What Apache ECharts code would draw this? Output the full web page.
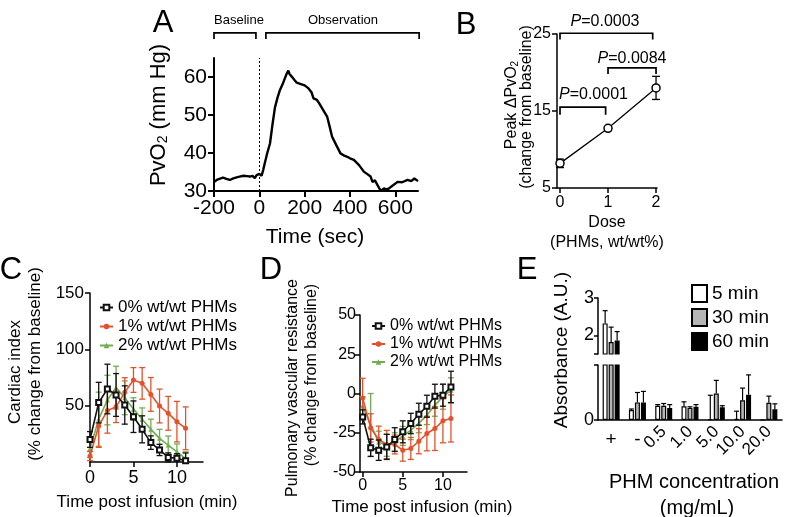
<!DOCTYPE html>
<html><head><meta charset="utf-8">
<script src="https://cdn.jsdelivr.net/npm/echarts@6.0.0/dist/echarts.min.js"></script>
<style>html,body{margin:0;padding:0;background:#fff;}#chart{width:793px;height:517px;}</style>
</head><body><div id="chart"></div>
<script>
// ---------- Panel A : PvO2 trace ----------
const timeA = [-200,-185,-170,-160,-145,-130,-115,-100,-87,-70,-55,-42,-30,-20,-12,-5,0,5,10,17,24,35,47,58,69,80,91,102,113,120,125,128,133,143,155,165,180,200,217,230,239,254,265,280,299,310,321,340,358,375,388,400,417,440,461,475,491,499,510,522,536,550,560,572,590,610,630,654,670,684,700];
const pvo2A = [32.4,33.0,33.3,33.5,33.2,32.9,33.3,33.6,33.8,34.0,33.9,33.8,34.0,33.4,34.2,34.6,34.5,34.0,34.0,35.5,37.3,40.0,42.5,47.5,52.0,54.5,56.6,58.0,59.7,60.8,61.2,61.7,60.8,60.1,59.2,58.5,58.2,57.8,57.0,56.0,54.4,54.0,53.0,51.5,49.6,47.0,44.3,42.0,39.9,39.3,39.0,38.6,38.2,36.8,35.1,34.5,33.8,32.4,32.8,31.5,30.0,30.7,30.3,30.7,31.5,32.4,32.3,32.9,32.6,33.3,32.6];
const phaseLabelsA = ['Baseline','Observation'];
const phaseStartA = [-200, 29];
const phaseEndA = [-15, 705];
const phaseTopA = [71.6, 71.6];
const phaseLegA = [70.0, 70.0];

// ---------- Panel B : peak dPvO2 vs dose ----------
const doseB = [0, 1, 2];
const peakB = [8.2, 12.75, 18.0];
const errB = [0.55, 0.2, 1.5];
const pValuesB = ['0.0001', '0.0084', '0.0003'];
const brStartB = [0, 1, 0];
const brEndB = [0.95, 2, 1.93];
const brTopB = [15.5, 20.6, 25.1];
const brLegB = [14.5, 19.8, 24.3];

// ---------- Panels C & D ----------
const groupNames = ['0% wt/wt PHMs', '1% wt/wt PHMs', '2% wt/wt PHMs'];
const timeCD = [0,1,2,3,4,5,6,7,8,9,10,11];
const cardiac0 = [20, 52.7, 64.8, 59.5, 50.6, 40.2, 29, 17.2, 10.7, 4.1, 3.3, 1];
const cardiac0Err = [7, 18, 22, 19, 17, 14, 12, 6, 5, 4, 4, 7];
const cardiac1 = [5.3, 32, 45.6, 49, 61.8, 72.8, 69.8, 60, 49.7, 43.2, 35.8, 29.9];
const cardiac1Err = [4, 19, 20, 14, 13, 11, 14, 15, 15, 15, 18, 19];
const cardiac2 = [12, 38, 55, 66, 57, 47, 38, 29, 21, 15, 9, 3];
const cardiac2Err = [8, 24, 22, 19, 15, 10, 10, 9, 8, 8, 7, 6];
const pvr0 = [-14.9, -34.6, -36.1, -34, -29.3, -24.4, -19.1, -13.2, -8.1, -1.7, -1.1, 4.2];
const pvr0Err = [4.5, 5.5, 6.5, 8, 7.5, 7, 6.5, 7, 7, 7.6, 7, 10];
const pvr1 = [-2.8, -21.9, -29.3, -32.5, -32.5, -36.1, -35, -30.4, -25.5, -22.3, -17.4, -15.9];
const pvr1Err = [12.5, 9, 8.5, 9, 6, 7, 7, 8, 11, 14, 14, 15];
const pvr2 = [-8, -20, -31, -33, -31, -27, -23.4, -19, -13.8, -7.5, -2, 2];
const pvr2Err = [6, 20, 7, 7, 6, 6, 6, 6, 6, 7, 8, 8];

// ---------- Panel E : hemolysis absorbance ----------
const concE = ['+', '-', '0.5', '1.0', '5.0', '10.0', '20.0'];
const timesE = ['5 min', '30 min', '60 min'];
const abs5 = [2.32, 0.09, 0.13, 0.125, 0.005, 0.01, 0];
const abs5Err = [0.34, 0.01, 0.01, 0.04, 0.22, 0.07, 0];
const abs30 = [1.82, 0.16, 0.13, 0.11, 0.24, 0.18, 0.157];
const abs30Err = [0.40, 0.09, 0.02, 0.01, 0.12, 0.11, 0.06];
const abs60 = [1.86, 0.16, 0.11, 0.12, 0.115, 0.23, 0.097];
const abs60Err = [0.24, 0.10, 0.03, 0.02, 0.015, 0.18, 0.05];

// ---------- styling ----------
const FONT = '"Liberation Sans", Arial, Helvetica, sans-serif';
const RED = '#e2532d';
const GREEN = '#72ad52';
const BLACK = '#111111';

function vAxis(g, min, max, ticks, labels, fs, margin, lw, tickLen) {
  return {
    type: 'value', gridIndex: g, min: min, max: max,
    splitLine: { show: false },
    axisLine: { show: true, onZero: false, lineStyle: { color: '#000', width: lw } },
    axisTick: { show: true, length: tickLen, customValues: ticks, lineStyle: { color: '#000', width: lw } },
    axisLabel: { show: true, customValues: labels, fontSize: fs, margin: margin, color: '#000', fontFamily: FONT }
  };
}

function errBars(xi, yi, xs, ys, es, color, cap, floor, z) {
  return {
    type: 'custom', xAxisIndex: xi, yAxisIndex: yi, silent: true, z: z,
    encode: { x: 0, y: 1 },
    data: xs.map((x, i) => [x, ys[i], es[i]]),
    renderItem: function (params, api) {
      const x = api.value(0), y = api.value(1), e = api.value(2);
      let lo = y - e;
      if (floor !== null && lo < floor) lo = floor;
      const p1 = api.coord([x, y + e]), p2 = api.coord([x, lo]);
      const st = { stroke: color, lineWidth: 1.3 };
      const ch = [
        { type: 'line', shape: { x1: p1[0], y1: p1[1], x2: p2[0], y2: p2[1] }, style: st },
        { type: 'line', shape: { x1: p1[0] - cap, y1: p1[1], x2: p1[0] + cap, y2: p1[1] }, style: st }
      ];
      if (floor === null || y - e >= floor) ch.push({ type: 'line', shape: { x1: p2[0] - cap, y1: p2[1], x2: p2[0] + cap, y2: p2[1] }, style: st });
      return { type: 'group', children: ch };
    }
  };
}

function brackets(xi, yi, x1, x2, top, leg) {
  return {
    type: 'custom', xAxisIndex: xi, yAxisIndex: yi, silent: true, clip: false,
    encode: { x: [0, 1], y: [2, 3] },
    data: x1.map((v, i) => [v, x2[i], top[i], leg[i]]),
    renderItem: function (params, api) {
      const a = api.coord([api.value(0), api.value(3)]);
      const b = api.coord([api.value(0), api.value(2)]);
      const c = api.coord([api.value(1), api.value(2)]);
      const d = api.coord([api.value(1), api.value(3)]);
      return { type: 'polyline', shape: { points: [a, b, c, d] }, style: { stroke: '#000', lineWidth: 1.7, fill: null } };
    }
  };
}

function lineSeries(name, xi, yi, xs, ys, color, symbol, size, z) {
  return {
    name: name, type: 'line', xAxisIndex: xi, yAxisIndex: yi, z: z,
    data: xs.map((x, i) => [x, ys[i]]),
    symbol: symbol, symbolSize: size, showSymbol: true,
    lineStyle: { color: color, width: 1.6 },
    itemStyle: symbol === 'emptyRect' ? { color: color, borderColor: color, borderWidth: 1.2 } : { color: color },
    emphasis: { disabled: true }
  };
}

const barStyles = [
  { color: '#ffffff', borderColor: '#000', borderWidth: 1.2 },
  { color: '#b5b5b5', borderColor: '#000', borderWidth: 1.2 },
  { color: '#000000', borderColor: '#000', borderWidth: 1.2 }
];
const absVals = [abs5, abs30, abs60];
const absErrs = [abs5Err, abs30Err, abs60Err];

function barSeries(i, xi, yi) {
  return {
    name: timesE[i], type: 'bar', xAxisIndex: xi, yAxisIndex: yi,
    data: absVals[i], barWidth: 5, barGap: '20%', clip: true,
    itemStyle: barStyles[i], emphasis: { disabled: true }
  };
}
function barErr(i, xi, yi) {
  const off = (i - 1) * 6;
  return {
    type: 'custom', xAxisIndex: xi, yAxisIndex: yi, silent: true, clip: true, z: 3,
    encode: { x: 0, y: 1 },
    data: concE.map((c, k) => [k, absVals[i][k], absErrs[i][k]]),
    renderItem: function (params, api) {
      const e = api.value(2);
      if (!e) return null;
      const p0 = api.coord([api.value(0), api.value(1)]);
      const p1 = api.coord([api.value(0), api.value(1) + e]);
      const x = p0[0] + off;
      const st = { stroke: '#000', lineWidth: 1.2 };
      return { type: 'group', children: [
        { type: 'line', shape: { x1: x, y1: p0[1], x2: x, y2: p1[1] }, style: st },
        { type: 'line', shape: { x1: x - 2.5, y1: p1[1], x2: x + 2.5, y2: p1[1] }, style: st }
      ] };
    }
  };
}

function txt(x, y, text, fs, extra) {
  const o = {
    type: 'text', x: x, y: y, silent: true,
    style: { text: text, font: fs + 'px ' + FONT, fontSize: fs, fontFamily: FONT, fill: '#000',
      align: 'center', verticalAlign: 'middle', textAlign: 'center', textVerticalAlign: 'middle' }
  };
  if (extra) {
    if (extra.rotation !== undefined) o.rotation = extra.rotation;
    if (extra.rich) o.style.rich = extra.rich;
    if (extra.align) { o.style.align = extra.align; o.style.textAlign = extra.align; }
  }
  return o;
}
const ROT = Math.PI / 2;
function subRich(fs) {
  return {
    a: { fontSize: fs, fontFamily: FONT, color: '#000' },
    s: { fontSize: Math.round(fs * 0.62), fontFamily: FONT, color: '#000', verticalAlign: 'bottom', lineHeight: Math.round(fs * 0.3) },
    i: { fontSize: fs, fontFamily: FONT, color: '#000', fontStyle: 'italic' }
  };
}

const option = {
  animation: false,
  backgroundColor: '#ffffff',
  textStyle: { fontFamily: FONT, color: '#000' },
  grid: [
    { left: 214, top: 58, width: 204, height: 133, outerBoundsMode: 'none' },
    { left: 557, top: 34, width: 100, height: 154, outerBoundsMode: 'none' },
    { left: 90, top: 293, width: 113, height: 169, outerBoundsMode: 'none' },
    { left: 360, top: 315, width: 107, height: 157, outerBoundsMode: 'none' },
    { left: 598, top: 298, width: 184, height: 56, outerBoundsMode: 'none' },
    { left: 598, top: 365, width: 184, height: 55, outerBoundsMode: 'none' }
  ],
  xAxis: [
    vAxis(0, -200, 700, [-200, 0, 200, 400, 600], [-200, 0, 200, 400, 600], 21, 7, 2, 6),
    vAxis(1, -0.0625, 2.02, [0, 1, 2], [0, 1, 2], 16, 7, 1.5, 5),
    vAxis(2, 0, 13, [0, 5, 10], [0, 5, 10], 18, 7, 1.5, 5),
    vAxis(3, -0.33, 13, [0, 5, 10], [0, 5, 10], 16, 6, 1.5, 5),
    { type: 'category', gridIndex: 4, data: concE, show: false },
    { type: 'category', gridIndex: 5, data: concE,
      axisLine: { show: true, lineStyle: { color: '#000', width: 1.5 } },
      axisTick: { show: false },
      axisLabel: { show: true, interval: 0, rotate: 45, fontSize: 17, margin: 9, color: '#000', fontFamily: FONT,
        formatter: v => (v === '+' || v === '-') ? '' : v } },
    { type: 'category', gridIndex: 5, data: concE, position: 'bottom',
      axisLine: { show: false }, axisTick: { show: false },
      axisLabel: { show: true, interval: 0, rotate: 0, fontSize: 19, margin: 10, color: '#000', fontFamily: FONT,
        formatter: v => (v === '+' || v === '-') ? v : '' } }
  ],
  yAxis: [
    vAxis(0, 30, 65, [30, 40, 50, 60], [30, 40, 50, 60], 21, 7, 2, 6),
    vAxis(1, 5, 25, [5, 15, 25], [5, 15, 25], 16, 6, 1.5, 5),
    vAxis(2, 0, 150, [50, 100, 150], [50, 100, 150], 17, 6, 1.5, 5),
    vAxis(3, -50, 50, [-50, -25, 0, 25, 50], [-50, -25, 0, 25, 50], 16, 4, 1.5, 5),
    vAxis(4, 1.5, 3, [1.5, 2, 3], [2, 3], 18, 4, 1.5, 4),
    vAxis(5, 0, 0.5, [0, 0.5], [0], 18, 4, 1.5, 4)
  ],
  legend: [
    { left: 94, top: 294, orient: 'vertical', itemWidth: 13, itemHeight: 7, itemGap: 2, selectedMode: false,
      textStyle: { fontSize: 17, fontFamily: FONT, color: '#000' }, data: groupNames },
    { left: 366, top: 313, orient: 'vertical', itemWidth: 13, itemHeight: 7, itemGap: 2, selectedMode: false,
      textStyle: { fontSize: 16, fontFamily: FONT, color: '#000' }, data: groupNames },
    { left: 686, top: 279, orient: 'vertical', itemWidth: 15, itemHeight: 17, itemGap: 5, selectedMode: false,
      icon: 'rect', textStyle: { fontSize: 19, fontFamily: FONT, color: '#000' }, data: timesE }
  ],
  series: [
    // A
    { name: 'PvO2', type: 'line', xAxisIndex: 0, yAxisIndex: 0, showSymbol: false, symbol: 'none',
      data: timeA.map((t, i) => [t, pvo2A[i]]),
      lineStyle: { color: '#000', width: 2.4 }, emphasis: { disabled: true },
      markLine: { silent: true, symbol: 'none', label: { show: false },
        lineStyle: { color: '#000', width: 1, type: [2, 2] }, data: [{ xAxis: 0 }] } },
    brackets(0, 0, phaseStartA, phaseEndA, phaseTopA, phaseLegA),
    // B
    errBars(1, 1, doseB, peakB, errB, '#000', 4, null, 2),
    { name: 'Peak', type: 'line', xAxisIndex: 1, yAxisIndex: 1, z: 4,
      data: doseB.map((d, i) => [d, peakB[i]]), symbol: 'circle', symbolSize: 8,
      itemStyle: { color: '#fff', borderColor: '#000', borderWidth: 1.5 },
      lineStyle: { color: '#000', width: 1.3 }, emphasis: { disabled: true } },
    brackets(1, 1, brStartB, brEndB, brTopB, brLegB),
    // C
    errBars(2, 2, timeCD, cardiac2, cardiac2Err, GREEN, 3, 0, 2),
    lineSeries(groupNames[2], 2, 2, timeCD, cardiac2, GREEN, 'triangle', 5, 3),
    errBars(2, 2, timeCD, cardiac1, cardiac1Err, RED, 3, 0, 4),
    lineSeries(groupNames[1], 2, 2, timeCD, cardiac1, RED, 'circle', 5, 5),
    errBars(2, 2, timeCD, cardiac0, cardiac0Err, BLACK, 3, 0, 6),
    lineSeries(groupNames[0], 2, 2, timeCD, cardiac0, BLACK, 'emptyRect', 5, 7),
    // D
    errBars(3, 3, timeCD, pvr2, pvr2Err, GREEN, 3, null, 2),
    lineSeries(groupNames[2], 3, 3, timeCD, pvr2, GREEN, 'triangle', 5, 3),
    errBars(3, 3, timeCD, pvr1, pvr1Err, RED, 3, null, 4),
    lineSeries(groupNames[1], 3, 3, timeCD, pvr1, RED, 'circle', 5, 5),
    errBars(3, 3, timeCD, pvr0, pvr0Err, BLACK, 3, null, 6),
    lineSeries(groupNames[0], 3, 3, timeCD, pvr0, BLACK, 'emptyRect', 5, 7),
    // E
    barSeries(0, 4, 4), barSeries(1, 4, 4), barSeries(2, 4, 4),
    barSeries(0, 5, 5), barSeries(1, 5, 5), barSeries(2, 5, 5),
    barErr(0, 4, 4), barErr(1, 4, 4), barErr(2, 4, 4),
    barErr(0, 5, 5), barErr(1, 5, 5), barErr(2, 5, 5)
  ],
  graphic: [
    txt(163, 23, 'A', 31), txt(466, 25, 'B', 31),
    txt(11, 270, 'C', 31), txt(271, 270, 'D', 31), txt(527, 270, 'E', 31),
    txt(239, 20, phaseLabelsA[0], 13), txt(343, 20, phaseLabelsA[1], 13),
    txt(159, 115, '{a|PvO}{s|2}{a| (mm Hg)}', 22, { rotation: ROT, rich: subRich(22) }),
    txt(315, 237, 'Time (sec)', 21),
    txt(512, 105, '{a|Peak ΔPvO}{s|2}', 16, { rotation: ROT, rich: subRich(16) }),
    txt(527, 107, '(change from baseline)', 16, { rotation: ROT }),
    txt(607, 223, 'Dose', 16), txt(607, 243, '(PHMs, wt/wt%)', 16),
    txt(559, 95, '{i|P}{a|=' + pValuesB[0] + '}', 16, { rich: subRich(16), align: 'left' }),
    txt(632, 59, '{i|P}{a|=' + pValuesB[1] + '}', 16, { rich: subRich(16) }),
    txt(605, 22, '{i|P}{a|=' + pValuesB[2] + '}', 16, { rich: subRich(16) }),
    txt(15, 372, 'Cardiac index', 17, { rotation: ROT }),
    txt(35, 364, '(% change from baseline)', 17, { rotation: ROT }),
    txt(147, 502, 'Time post infusion (min)', 17),
    txt(293, 388, 'Pulmonary vascular resistance', 16, { rotation: ROT }),
    txt(312, 375, '(% change from baseline)', 16, { rotation: ROT }),
    txt(422, 507, 'Time post infusion (min)', 17),
    txt(562, 350, 'Absorbance (A.U.)', 19, { rotation: ROT }),
    txt(694, 482, 'PHM concentration', 20),
    txt(697, 508, '(mg/mL)', 20)
  ]
};

const chart = echarts.init(document.getElementById('chart'), null, { renderer: 'canvas' });
chart.setOption(option);
</script>
</body></html>
